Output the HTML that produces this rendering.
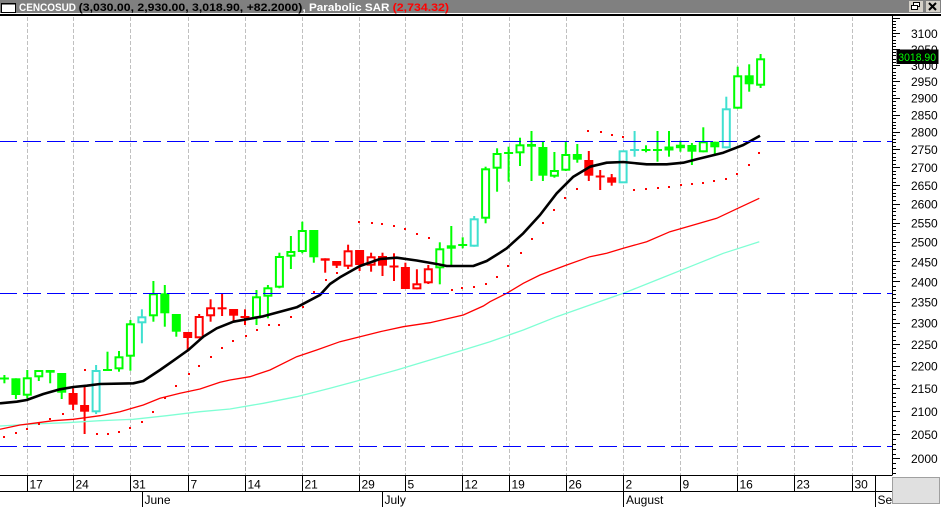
<!DOCTYPE html>
<html><head><meta charset="utf-8"><style>
html,body{margin:0;padding:0;background:#fff;width:941px;height:507px;overflow:hidden}
svg{display:block}
text{font-family:"Liberation Sans",Arial,sans-serif}
.g{fill:#00ff00}.r{fill:#ff0000}.c{fill:#40e0d0}
.hg{fill:#fff;stroke:#00ff00;stroke-width:2}
.hr{fill:#fff;stroke:#ff0000;stroke-width:2}
.hc{fill:#fff;stroke:#40e0d0;stroke-width:2}
.ax{font-size:12px;fill:#000}
</style></head><body>
<svg width="941" height="507" viewBox="0 0 941 507" xmlns="http://www.w3.org/2000/svg">
<rect x="0" y="0" width="941" height="507" fill="#fff"/>
<!-- title bar -->
<rect x="0" y="0" width="941" height="13" fill="#808080"/>
<rect x="0" y="14" width="941" height="2" fill="#000"/>
<rect x="1.5" y="3.5" width="14" height="9" fill="#fff" stroke="#000"/>
<rect x="1.5" y="3" width="14" height="1.5" fill="#000"/>
<text x="19" y="10.8" font-size="11" font-weight="bold" fill="#fff" textLength="57" lengthAdjust="spacingAndGlyphs">CENCOSUD</text>
<text x="78.7" y="10.8" font-size="11" font-weight="bold" fill="#000" textLength="223.6" lengthAdjust="spacingAndGlyphs">(3,030.00, 2,930.00, 3,018.90, +82.2000)</text>
<text x="302.5" y="10.8" font-size="11" font-weight="bold" fill="#fff" textLength="87" lengthAdjust="spacingAndGlyphs">, Parabolic SAR</text>
<text x="392.7" y="10.8" font-size="11" font-weight="bold" fill="#ff0000" textLength="56.3" lengthAdjust="spacingAndGlyphs">(2,734.32)</text>
<!-- buttons -->
<rect x="908.5" y="0.5" width="15" height="12" fill="#d4d0c8" stroke="#808080"/>
<rect x="913.5" y="2.5" width="6" height="4" fill="#fff" stroke="#000"/>
<rect x="911.5" y="5.5" width="6" height="4" fill="#fff" stroke="#000"/>
<rect x="925.5" y="0.5" width="15" height="12" fill="#d4d0c8" stroke="#808080"/>
<path d="M929 3L936 10M936 3L929 10" stroke="#000" stroke-width="2"/>

<!-- vertical grid -->
<g stroke="#c0c0c0" stroke-width="1" stroke-dasharray="4,2">
<path d="M27.5 17V475M73.5 17V475M130.5 17V475M188.5 17V475M245.5 17V475M302.5 17V475M359.5 17V475M405.5 17V475M462.5 17V475M509.5 17V475M566.5 17V475M623.5 17V475M680.5 17V475M737.5 17V475M794.5 17V475M852.5 17V475"/>
</g>

<!-- candles -->
<g>
<rect x="3.4" y="375" width="2" height="8.3" class="g"/><rect x="-0.1" y="377.5" width="9" height="2" class="g"/>
<rect x="14.9" y="378.3" width="2" height="20.7" class="g"/><rect x="11.4" y="378.3" width="9" height="16.7" class="g"/>
<rect x="26.3" y="370" width="2" height="28.3" class="g"/><rect x="23.8" y="378.3" width="7" height="16.4" class="hg"/>
<rect x="37.8" y="370" width="2" height="11" class="g"/><rect x="35.3" y="371" width="7" height="5.3" class="hg"/>
<rect x="49.2" y="370" width="2" height="13.3" class="g"/><rect x="45.7" y="370" width="9" height="2.7" class="g"/>
<rect x="60.7" y="373" width="2" height="26" class="g"/><rect x="57.2" y="373" width="9" height="19.7" class="g"/>
<rect x="72.1" y="388.3" width="2" height="21.7" class="r"/><rect x="68.6" y="393" width="9" height="11.7" class="r"/>
<rect x="83.6" y="386" width="2" height="48" class="r"/><rect x="80.1" y="405" width="9" height="6.7" class="r"/>
<rect x="95.1" y="365" width="2" height="49" class="c"/><rect x="92.6" y="371" width="7" height="40.3" class="hc"/>
<rect x="106.5" y="351.7" width="2" height="19" class="g"/><rect x="103" y="369" width="9" height="2" class="g"/>
<rect x="118" y="351" width="2" height="20.7" class="g"/><rect x="115.5" y="357.3" width="7" height="11" class="hg"/>
<rect x="129.4" y="320" width="2" height="50.7" class="g"/><rect x="126.9" y="324.3" width="7" height="31.4" class="hg"/>
<rect x="140.9" y="309.3" width="2" height="34" class="c"/><rect x="138.4" y="317.3" width="7" height="5" class="hc"/>
<rect x="152.4" y="281" width="2" height="40.7" class="g"/><rect x="149.9" y="294.3" width="7" height="21" class="hg"/>
<rect x="163.8" y="285" width="2" height="41.7" class="g"/><rect x="160.3" y="293.3" width="9" height="20" class="g"/>
<rect x="175.3" y="314" width="2" height="22.7" class="g"/><rect x="171.8" y="314" width="9" height="17.7" class="g"/>
<rect x="186.7" y="332" width="2" height="19.7" class="r"/><rect x="183.2" y="332" width="9" height="6" class="r"/>
<rect x="198.2" y="314" width="2" height="24.3" class="r"/><rect x="195.7" y="317" width="7" height="20.3" class="hr"/>
<rect x="209.6" y="299.3" width="2" height="22.4" class="r"/><rect x="207.1" y="308.3" width="7" height="7" class="hr"/>
<rect x="221.1" y="293.3" width="2" height="22.7" class="r"/><rect x="217.6" y="307.3" width="9" height="2" class="r"/>
<rect x="232.6" y="309" width="2" height="12.7" class="r"/><rect x="229.1" y="309" width="9" height="6.7" class="r"/>
<rect x="244" y="309.3" width="2" height="15.7" class="r"/><rect x="240.5" y="316" width="9" height="2" class="r"/>
<rect x="255.5" y="290" width="2" height="35" class="g"/><rect x="253" y="297.3" width="7" height="20" class="hg"/>
<rect x="266.9" y="285" width="2" height="33.3" class="g"/><rect x="264.4" y="288.3" width="7" height="7.4" class="hg"/>
<rect x="278.4" y="252.7" width="2" height="35.6" class="g"/><rect x="275.9" y="257" width="7" height="29.7" class="hg"/>
<rect x="289.9" y="236" width="2" height="33" class="g"/><rect x="287.4" y="252" width="7" height="3.7" class="hg"/>
<rect x="301.3" y="221.7" width="2" height="31.6" class="g"/><rect x="298.8" y="231" width="7" height="20" class="hg"/>
<rect x="312.8" y="230" width="2" height="32.7" class="g"/><rect x="309.3" y="230" width="9" height="27.3" class="g"/>
<rect x="324.2" y="258.3" width="2" height="14.4" class="r"/><rect x="320.7" y="258.3" width="9" height="2.4" class="r"/>
<rect x="335.7" y="261" width="2" height="7" class="r"/><rect x="332.2" y="261" width="9" height="4.7" class="r"/>
<rect x="347.1" y="244.7" width="2" height="24.3" class="r"/><rect x="344.6" y="251.3" width="7" height="14.4" class="hr"/>
<rect x="358.6" y="250" width="2" height="21" class="r"/><rect x="355.1" y="250" width="9" height="15" class="r"/>
<rect x="370.1" y="252.7" width="2" height="19" class="r"/><rect x="367.6" y="257.3" width="7" height="7.4" class="hr"/>
<rect x="381.5" y="252.7" width="2" height="23.3" class="r"/><rect x="378" y="256" width="9" height="9.7" class="r"/>
<rect x="393" y="253.3" width="2" height="27.7" class="r"/><rect x="389.5" y="265.5" width="9" height="2" class="r"/>
<rect x="404.4" y="262.7" width="2" height="26.3" class="r"/><rect x="400.9" y="267" width="9" height="22" class="r"/>
<rect x="415.9" y="269.3" width="2" height="20" class="r"/><rect x="413.4" y="284.3" width="7" height="4" class="hr"/>
<rect x="427.3" y="265" width="2" height="19" class="r"/><rect x="424.8" y="269.3" width="7" height="13" class="hr"/>
<rect x="438.8" y="242.3" width="2" height="42" class="g"/><rect x="436.3" y="249.3" width="7" height="18" class="hg"/>
<rect x="450.3" y="226" width="2" height="39" class="g"/><rect x="447.8" y="246.3" width="7" height="1.4" class="hg"/>
<rect x="461.7" y="237.3" width="2" height="11" class="g"/><rect x="458.2" y="244" width="9" height="2" class="g"/>
<rect x="473.2" y="216" width="2" height="30.7" class="c"/><rect x="470.7" y="219.3" width="7" height="26.4" class="hc"/>
<rect x="484.6" y="166.7" width="2" height="56.6" class="g"/><rect x="482.1" y="169.3" width="7" height="48.4" class="hg"/>
<rect x="496.1" y="148.3" width="2" height="43.4" class="g"/><rect x="493.6" y="154" width="7" height="13.7" class="hg"/>
<rect x="507.6" y="146.7" width="2" height="35" class="g"/><rect x="504.1" y="152" width="9" height="2" class="g"/>
<rect x="519" y="137.7" width="2" height="28.3" class="g"/><rect x="516.5" y="145.3" width="7" height="7" class="hg"/>
<rect x="530.5" y="131" width="2" height="50" class="g"/><rect x="527" y="144" width="9" height="2.7" class="g"/>
<rect x="541.9" y="141.7" width="2" height="39.3" class="g"/><rect x="538.4" y="147" width="9" height="28.7" class="g"/>
<rect x="553.4" y="152" width="2" height="25.7" class="g"/><rect x="550.9" y="171" width="7" height="4.7" class="hg"/>
<rect x="564.8" y="141.7" width="2" height="29.3" class="g"/><rect x="562.3" y="155" width="7" height="14.7" class="hg"/>
<rect x="576.3" y="144" width="2" height="18.7" class="g"/><rect x="572.8" y="154" width="9" height="5.7" class="g"/>
<rect x="587.8" y="151" width="2" height="30" class="r"/><rect x="584.3" y="160" width="9" height="15.7" class="r"/>
<rect x="599.2" y="170" width="2" height="20" class="r"/><rect x="595.7" y="175.5" width="9" height="2" class="r"/>
<rect x="610.7" y="174" width="2" height="11.7" class="r"/><rect x="607.2" y="177.3" width="9" height="5.4" class="r"/>
<rect x="619.6" y="151.3" width="7" height="31" class="hc"/>
<rect x="633.6" y="131" width="2" height="25.7" class="c"/><rect x="630.1" y="149" width="9" height="2" class="c"/>
<rect x="645" y="145.3" width="2" height="7" class="g"/><rect x="641.5" y="149" width="9" height="2" class="g"/>
<rect x="656.5" y="131" width="2" height="30.7" class="g"/><rect x="653" y="149" width="9" height="2" class="g"/>
<rect x="668" y="131" width="2" height="25.7" class="g"/><rect x="665.5" y="147.5" width="7" height="2" class="hg"/>
<rect x="679.4" y="140.7" width="2" height="11" class="g"/><rect x="676.9" y="145.7" width="7" height="1.5" class="hg"/>
<rect x="690.9" y="143" width="2" height="22" class="g"/><rect x="687.4" y="145" width="9" height="6.7" class="g"/>
<rect x="702.3" y="127.3" width="2" height="25" class="g"/><rect x="699.8" y="142.3" width="7" height="9" class="hg"/>
<rect x="713.8" y="141.7" width="2" height="13.3" class="g"/><rect x="710.3" y="141.7" width="9" height="5.6" class="g"/>
<rect x="725.3" y="96.7" width="2" height="51.6" class="c"/><rect x="722.8" y="109.3" width="7" height="38" class="hc"/>
<rect x="736.7" y="66.7" width="2" height="42" class="g"/><rect x="734.2" y="76.3" width="7" height="31.4" class="hg"/>
<rect x="748.2" y="64.3" width="2" height="27.4" class="g"/><rect x="744.7" y="75.3" width="9" height="9" class="g"/>
<rect x="759.6" y="54" width="2" height="34" class="g"/><rect x="757.1" y="59.3" width="7" height="25.4" class="hg"/>
</g>

<!-- moving averages -->
<polyline fill="none" stroke="#7fffd4" stroke-width="1.3" points="0,426 33.3,424 66.7,422.7 100,420.7 133.3,419.3 166.7,415.7 200,411.7 230,409 263.3,403.3 296.7,396.7 330,388.3 363.3,379.3 396.7,370 430,360 463.3,350 490,341.7 523.3,330 556.7,316.7 590,305 623.3,293.3 656.7,280 690,266.7 723.3,253.3 759.3,241.7"/>
<polyline fill="none" stroke="#ff0000" stroke-width="1.3" points="0,429.3 20,425 33.3,423.3 53.3,420.7 73.3,419.3 100,415.7 120,411.7 143.3,405 160,398.3 180,393.3 200,389 220,382.3 230,380 250,376.7 270,370 296.7,356.7 316.7,350 340,341.7 360,336.7 380,331.7 403.3,326.7 430,322.7 463.3,315 483.3,306 490,301.7 506.7,293.3 523.3,283.3 540,275 566.7,265 590,256.7 606.7,253.3 623.3,248.3 646.7,241.7 670,231.7 690,226 716.7,218.3 740,207.3 759.3,198.3"/>
<polyline fill="none" stroke="#000" stroke-width="2.6" stroke-linejoin="round" points="0,403.3 16.7,401.7 26.7,400 43.3,394 60,389.3 73.3,387 86.7,385.7 100,384 133.3,383.3 143.3,381 160,370 173.3,360.7 188.3,350 203.3,336.7 216.7,328.3 233.3,321.7 263.3,316.3 296.7,307.3 320,295 330,284 340,277.3 360,266 380,259 396.7,257.7 416.7,260.5 436.7,264 446.7,266 473.3,266 486.7,261 500,252.7 506.7,248.3 523.3,233.3 540,215 556.7,193.3 573.3,176.7 590,166.7 606.7,162.7 623.3,162 646.7,164.3 666.7,164.3 683.3,162.7 696.7,159.3 723.3,152.7 743.3,145 760,135.7"/>

<!-- blue dashed lines -->
<g stroke="#0000ff" stroke-width="1" stroke-dasharray="18,6" stroke-dashoffset="1" fill="none">
<path d="M0 141.5H892M0 293.5H892M0 446.5H892"/>
</g>

<!-- SAR dots -->
<path fill="#ff0000" d="M3 436h2v2h-2zM15 432h2v2h-2zM26 428h2v2h-2zM38 423h2v2h-2zM49 418h2v2h-2zM62 413h2v2h-2zM84 369h2v2h-2zM96 433h2v2h-2zM107 433h2v2h-2zM118 431h2v2h-2zM129 427h2v2h-2zM141 421h2v2h-2zM152 411h2v2h-2zM164 397h2v2h-2zM175 385h2v2h-2zM188 373h2v2h-2zM198 365h2v2h-2zM210 356h2v2h-2zM221 347h2v2h-2zM232 340h2v2h-2zM245 335h2v2h-2zM256 329h2v2h-2zM268 324h2v2h-2zM278 324h2v2h-2zM290 316h2v2h-2zM302 306h2v2h-2zM313 291h2v2h-2zM325 279h2v2h-2zM336 272h2v2h-2zM358 221h2v2h-2zM371 222h2v2h-2zM381 223h2v2h-2zM393 225h2v2h-2zM404 228h2v2h-2zM416 233h2v2h-2zM428 237h2v2h-2zM451 289h2v2h-2zM461 287h2v2h-2zM473 286h2v2h-2zM485 283h2v2h-2zM496 276h2v2h-2zM507 265h2v2h-2zM520 252h2v2h-2zM531 238h2v2h-2zM542 222h2v2h-2zM553 209h2v2h-2zM564 197h2v2h-2zM576 188h2v2h-2zM587 130h2v2h-2zM600 131h2v2h-2zM611 134h2v2h-2zM622 136h2v2h-2zM633 189h2v2h-2zM645 188h2v2h-2zM657 187h2v2h-2zM668 186h2v2h-2zM680 184h2v2h-2zM691 183h2v2h-2zM702 182h2v2h-2zM713 180h2v2h-2zM725 178h2v2h-2zM736 173h2v2h-2zM748 164h2v2h-2zM758 152h2v2h-2z"/>

<!-- right axis -->
<path d="M892.5 16V475.5" stroke="#000" stroke-width="1"/>
<path stroke="#000" stroke-width="1" fill="none" d="M892 458.5h8M892 434.5h8M892 411.5h8M892 388.5h8M892 366.5h8M892 344.5h8M892 323.5h8M892 302.5h8M892 281.5h8M892 261.5h8M892 242.5h8M892 223.5h8M892 204.5h8M892 185.5h8M892 167.5h8M892 149.5h8M892 132.5h8M892 115.5h8M892 98.5h8M892 81.5h8M892 65.5h8M892 49.5h8M892 33.5h8M892 18.5h8
M892 473.5h4M892 468.5h4M892 463.5h4M892 454.5h4M892 449.5h4M892 444.5h4M892 439.5h4M892 430.5h4M892 425.5h4M892 420.5h4M892 416.5h4M892 406.5h4M892 402.5h4M892 397.5h4M892 393.5h4M892 384.5h4M892 379.5h4M892 375.5h4M892 370.5h4M892 361.5h4M892 357.5h4M892 353.5h4M892 348.5h4M892 340.5h4M892 336.5h4M892 331.5h4M892 327.5h4M892 319.5h4M892 314.5h4M892 310.5h4M892 306.5h4M892 298.5h4M892 294.5h4M892 290.5h4M892 286.5h4M892 277.5h4M892 273.5h4M892 269.5h4M892 265.5h4M892 258.5h4M892 254.5h4M892 250.5h4M892 246.5h4M892 238.5h4M892 234.5h4M892 230.5h4M892 226.5h4M892 219.5h4M892 215.5h4M892 211.5h4M892 208.5h4M892 200.5h4M892 196.5h4M892 193.5h4M892 189.5h4M892 182.5h4M892 178.5h4M892 174.5h4M892 171.5h4M892 164.5h4M892 160.5h4M892 157.5h4M892 153.5h4M892 146.5h4M892 142.5h4M892 139.5h4M892 135.5h4M892 128.5h4M892 125.5h4M892 122.5h4M892 118.5h4M892 111.5h4M892 108.5h4M892 105.5h4M892 101.5h4M892 95.5h4M892 91.5h4M892 88.5h4M892 85.5h4M892 78.5h4M892 75.5h4M892 72.5h4M892 68.5h4M892 62.5h4M892 59.5h4M892 55.5h4M892 52.5h4M892 46.5h4M892 43.5h4M892 40.5h4M892 36.5h4M892 30.5h4M892 27.5h4M892 24.5h4M892 21.5h4"/>
<g class="ax">
<text x="911" y="463.1">2000</text>
<text x="911" y="439.2">2050</text>
<text x="911" y="415.8">2100</text>
<text x="911" y="393">2150</text>
<text x="911" y="370.7">2200</text>
<text x="911" y="348.9">2250</text>
<text x="911" y="327.5">2300</text>
<text x="911" y="306.7">2350</text>
<text x="911" y="286.3">2400</text>
<text x="911" y="266.3">2450</text>
<text x="911" y="246.7">2500</text>
<text x="911" y="227.4">2550</text>
<text x="911" y="208.6">2600</text>
<text x="911" y="190.1">2650</text>
<text x="911" y="172">2700</text>
<text x="911" y="154.2">2750</text>
<text x="911" y="136.7">2800</text>
<text x="911" y="119.6">2850</text>
<text x="911" y="102.7">2900</text>
<text x="911" y="86.1">2950</text>
<text x="911" y="69.8">3000</text>
<text x="911" y="53.8">3050</text>
<text x="911" y="38">3100</text>
</g>
<rect x="896.5" y="49.5" width="42" height="14.5" fill="#000"/>
<text x="898.3" y="61" font-size="11" fill="#00ff00" textLength="37.7" lengthAdjust="spacingAndGlyphs">3018.90</text>

<!-- date axis -->
<path stroke="#000" stroke-width="1" fill="none" d="M0 475.5H892M0 491.5H892
M27.5 475.5V491.5M73.5 475.5V491.5M130.5 475.5V491.5M188.5 475.5V491.5M245.5 475.5V491.5M302.5 475.5V491.5M359.5 475.5V491.5M405.5 475.5V491.5M462.5 475.5V491.5M509.5 475.5V491.5M566.5 475.5V491.5M680.5 475.5V491.5M737.5 475.5V491.5M794.5 475.5V491.5M852.5 475.5V491.5
M623.5 475.5V507M875.5 475.5V507M142.5 491.5V507M382.5 491.5V507"/>
<g class="ax">
<text x="29.5" y="488.5">17</text>
<text x="75.5" y="488.5">24</text>
<text x="132.5" y="488.5">31</text>
<text x="190.5" y="488.5">7</text>
<text x="247.5" y="488.5">14</text>
<text x="304.5" y="488.5">21</text>
<text x="361.5" y="488.5">29</text>
<text x="407.5" y="488.5">5</text>
<text x="464.5" y="488.5">12</text>
<text x="511.5" y="488.5">19</text>
<text x="568.5" y="488.5">26</text>
<text x="625.5" y="488.5">2</text>
<text x="682.5" y="488.5">9</text>
<text x="739.5" y="488.5">16</text>
<text x="796.5" y="488.5">23</text>
<text x="854.5" y="488.5">30</text>
<text x="144.5" y="504">June</text>
<text x="384.5" y="504">July</text>
<text x="626" y="504">August</text>
<text x="877.5" y="504">Se</text>
</g>
<rect x="892" y="476" width="49" height="31" fill="#fff"/>
<rect x="892.5" y="477.5" width="47" height="26" fill="#e0e0e0" stroke="#a0a0a0"/>
</svg>
</body></html>
